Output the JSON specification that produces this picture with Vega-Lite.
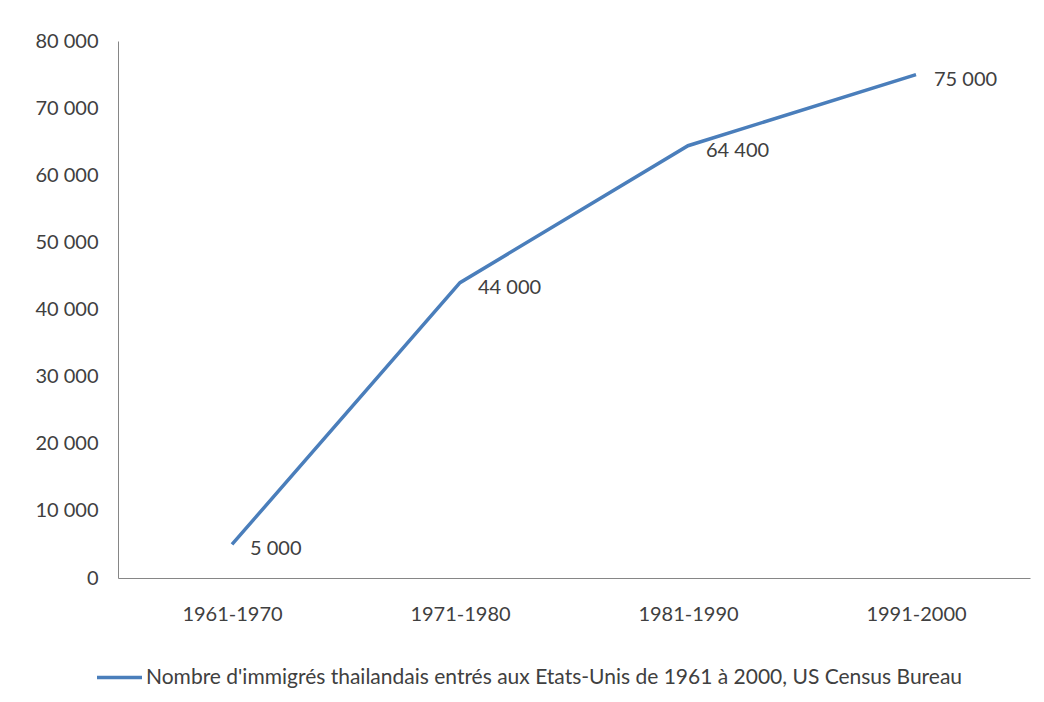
{
  "$schema": "https://vega.github.io/schema/vega-lite/v6.json",
  "width": 912,
  "height": 537,
  "autosize": {"type": "none"},
  "padding": {"left": 118, "top": 41, "right": 14, "bottom": 124},
  "background": "white",
  "config": {
    "locale": {"number": {"decimal": ",", "thousands": " ", "grouping": [3], "currency": ["", " €"]}},
    "view": {"stroke": null},
    "font": "Lato",
    "axis": {"labelFont": "Lato", "labelColor": "#404040", "grid": false, "ticks": false, "domainColor": "#868686", "domainWidth": 1, "title": null}
  },
  "data": {
    "values": [
      {"periode": "1961-1970", "immigres": 5000, "serie": "Nombre d'immigrés  thailandais entrés aux Etats-Unis de 1961 à 2000, US Census Bureau"},
      {"periode": "1971-1980", "immigres": 44000, "serie": "Nombre d'immigrés  thailandais entrés aux Etats-Unis de 1961 à 2000, US Census Bureau"},
      {"periode": "1981-1990", "immigres": 64400, "serie": "Nombre d'immigrés  thailandais entrés aux Etats-Unis de 1961 à 2000, US Census Bureau"},
      {"periode": "1991-2000", "immigres": 75000, "serie": "Nombre d'immigrés  thailandais entrés aux Etats-Unis de 1961 à 2000, US Census Bureau"}
    ]
  },
  "encoding": {
    "x": {
      "field": "periode", "type": "ordinal",
      "scale": {"type": "point", "padding": 0.5},
      "axis": {"labelAngle": 0, "labelFontSize": 20, "labelPadding": 26}
    },
    "y": {
      "field": "immigres", "type": "quantitative",
      "scale": {"domain": [0, 80000], "nice": false},
      "axis": {"values": [0, 10000, 20000, 30000, 40000, 50000, 60000, 70000, 80000], "format": ",d", "labelFontSize": 20, "labelPadding": 20}
    }
  },
  "layer": [
    {
      "mark": {"type": "line", "strokeWidth": 3.5},
      "encoding": {
        "color": {
          "field": "serie", "type": "nominal",
          "scale": {"range": ["#4A7EBB"]},
          "legend": {
            "title": null,
            "orient": "none",
            "legendX": -23,
            "legendY": 612,
            "symbolType": "stroke",
            "symbolSize": 2025,
            "symbolStrokeWidth": 3.5,
            "labelFont": "Lato",
            "labelFontSize": 21,
            "labelColor": "#404040",
            "labelLimit": 1000,
            "labelOffset": 2
          }
        }
      }
    },
    {
      "mark": {"type": "text", "align": "left", "baseline": "middle", "dx": 18, "dy": 5, "fontSize": 20, "color": "#404040", "font": "Lato"},
      "encoding": {
        "text": {"field": "immigres", "type": "quantitative", "format": ",d"}
      }
    }
  ]
}
